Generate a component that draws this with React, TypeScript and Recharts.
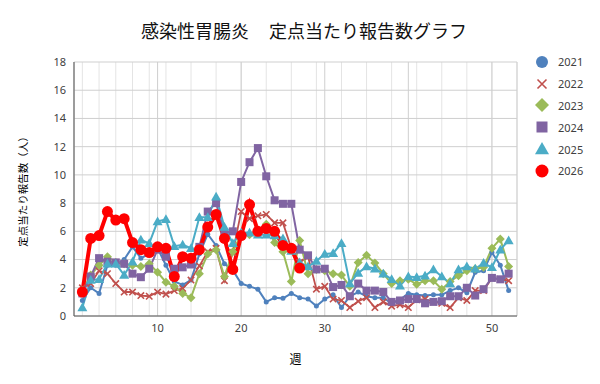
import React from "react";
import { LineChart, Line, XAxis, YAxis, CartesianGrid } from "recharts";

// 週番号（1〜52）
const weeks = [
  1, 2, 3, 4, 5, 6, 7, 8, 9, 10, 11, 12, 13, 14, 15, 16, 17, 18, 19, 20, 21, 22, 23, 24, 25, 26,
  27, 28, 29, 30, 31, 32, 33, 34, 35, 36, 37, 38, 39, 40, 41, 42, 43, 44, 45, 46, 47, 48, 49, 50, 51, 52,
];

const y2021 = [
  1.1, 2.0, 1.6, 3.6, 3.6, 4.0, 4.9, 4.1, 4.4, 4.8, 3.6, 2.45, 2.2, 2.55, 4.4, 5.8, 5.0, 3.7, 3.25, 2.3,
  2.1, 1.9, 1.0, 1.3, 1.25, 1.6, 1.3, 1.2, 0.7, 1.2, 1.5, 0.6, 1.4, 1.7, 1.4, 1.3, 1.3, 0.9, 1.15, 1.6,
  1.5, 1.45, 1.5, 1.5, 1.8, 2.0, 1.65, 3.1, 3.2, 4.5, 3.6, 1.8,
];
const y2022 = [
  2.0, 2.3, 3.2, 3.0, 2.3, 1.7, 1.7, 1.45, 1.4, 1.7, 1.55, 1.8, 1.95, 2.55, 3.55, 4.55, 4.8, 2.5, 4.5, 7.4,
  6.9, 7.1, 7.2, 6.6, 6.6, 4.8, 3.8, 4.2, 1.9, 2.1, 1.2, 1.1, 0.6, 1.05, 1.3, 0.6, 1.0, 0.7, 0.8, 0.6,
  1.15, 1.2, 1.0, 0.9, 0.6, 1.3, 1.1, 1.8, 1.8, 2.7, 2.6, 2.5,
];
const y2023 = [
  1.8, 2.9, 3.6, 4.2, 3.8, 3.7, 3.6, 3.5, 3.7, 3.1, 2.4, 2.1, 1.6, 1.3, 3.0, 4.4, 4.7, 2.8, 4.55, 5.8,
  5.75, 6.1, 6.5, 5.2, 4.55, 2.45, 5.35, 3.0, 3.3, 3.2, 3.0, 2.9, 2.1, 3.8, 4.3, 3.75, 3.0, 2.3, 2.5, 2.6,
  2.25, 2.5, 2.5, 1.9, 2.45, 2.85, 3.2, 3.35, 3.45, 4.8, 5.45, 3.5,
];
const y2024 = [
  1.6, 2.8, 4.1, 3.85, 3.8, 3.7, 3.0, 2.75, 3.35, 4.7, 4.2, 3.35, 3.45, 3.65, 4.9, 7.4, 8.0, 5.9, 6.0, 9.5,
  10.9, 11.9, 9.9, 8.2, 7.95, 7.95, 4.7, 4.3, 3.3, 3.35, 2.05, 2.2, 1.4, 2.3, 1.8, 1.8, 1.7, 1.0, 1.1, 1.2,
  1.2, 0.9, 1.0, 1.05, 1.4, 1.4, 2.0, 1.45, 1.9, 2.7, 2.6, 3.0,
];
const y2025 = [
  0.6, 2.55, 2.6, 3.7, 3.7, 2.9, 3.85, 5.4, 5.15, 6.7, 6.85, 4.95, 5.05, 4.8, 7.0, 7.0, 8.45, 6.3, 5.15, 5.9,
  5.9, 5.75, 5.75, 5.7, 5.5, 4.6, 3.8, 3.5, 3.9, 4.4, 4.45, 5.15, 2.3, 3.05, 3.5, 3.35, 3.0, 2.6, 2.15, 2.8,
  2.75, 2.85, 3.3, 2.8, 2.3, 3.3, 3.5, 3.35, 3.75, 3.45, 4.7, 5.35,
];
// 2026年は第27週まで
const y2026 = [
  1.7, 5.5, 5.7, 7.4, 6.8, 6.9, 5.2, 4.7, 4.5, 4.9, 4.8, 2.8, 4.2, 4.1, 4.7, 6.3, 7.2, 5.5, 3.3, 5.7,
  7.9, 6.0, 6.2, 6.0, 5.0, 4.8, 3.4,
];

const yTicks = [0, 2, 4, 6, 8, 10, 12, 14, 16, 18];
const xMajorTicks = [10, 20, 30, 40, 50];
const xMinorTicks = [
  0, 1, 2, 3, 4, 5, 6, 7, 8, 9, 10, 11, 12, 13, 14, 15, 16, 17, 18, 19, 20, 21, 22, 23, 24, 25, 26, 27,
  28, 29, 30, 31, 32, 33, 34, 35, 36, 37, 38, 39, 40, 41, 42, 43, 44, 45, 46, 47, 48, 49, 50, 51, 52, 53,
];

const data = weeks.map((w, i) => ({
  week: w,
  y2021: y2021[i],
  y2022: y2022[i],
  y2023: y2023[i],
  y2024: y2024[i],
  y2025: y2025[i],
  y2026: y2026[i],
}));

type Kind = "circle" | "cross" | "diamond" | "square" | "triangle";

const series = [
  { key: "y2021", name: "2021", color: "#4f81bd", kind: "circle" as Kind, width: 2, size: 2.5, legendSize: 6 },
  { key: "y2022", name: "2022", color: "#c0504d", kind: "cross" as Kind, width: 1.8, size: 3.2, legendSize: 4.5 },
  { key: "y2023", name: "2023", color: "#9bbb59", kind: "diamond" as Kind, width: 2, size: 4.5, legendSize: 7 },
  { key: "y2024", name: "2024", color: "#8064a2", kind: "square" as Kind, width: 2, size: 4, legendSize: 5.5 },
  { key: "y2025", name: "2025", color: "#4bacc6", kind: "triangle" as Kind, width: 2, size: 5, legendSize: 7 },
  { key: "y2026", name: "2026", color: "#ff0000", kind: "circle" as Kind, width: 4, size: 5.5, legendSize: 6.5 },
];

function Marker({ kind, cx, cy, s, color }: { kind: Kind; cx: number; cy: number; s: number; color: string }) {
  switch (kind) {
    case "circle":
      return <circle cx={cx} cy={cy} r={s} fill={color} />;
    case "cross":
      return (
        <path
          d={`M${cx - s},${cy - s}L${cx + s},${cy + s}M${cx - s},${cy + s}L${cx + s},${cy - s}`}
          stroke={color}
          strokeWidth={1.6}
        />
      );
    case "diamond":
      return <path d={`M${cx},${cy - s}L${cx + s},${cy}L${cx},${cy + s}L${cx - s},${cy}Z`} fill={color} />;
    case "square":
      return <rect x={cx - s} y={cy - s} width={s * 2} height={s * 2} fill={color} />;
    case "triangle":
      return <path d={`M${cx},${cy - s}L${cx + s},${cy + s * 0.75}L${cx - s},${cy + s * 0.75}Z`} fill={color} />;
  }
}

const makeDot = (kind: Kind, s: number, color: string) => (p: any) => {
  if (p.cx == null || p.cy == null || p.value == null) return <g key={p.index} />;
  return (
    <g key={p.index}>
      <Marker kind={kind} cx={p.cx} cy={p.cy} s={s} color={color} />
    </g>
  );
};

const YTitle = (props: any) => {
  const { viewBox } = props;
  const x = viewBox.x + 22;
  const y = viewBox.y + viewBox.height / 2;
  return (
    <text
      x={x}
      y={y}
      transform={`rotate(-90 ${x} ${y})`}
      textAnchor="middle"
      dominantBaseline="central"
      fontSize={10.5}
      fill="#000"
      fontFamily="'Noto Sans CJK JP', sans-serif"
    >
      定点当たり報告数（人）
    </text>
  );
};

const tickStyle = { fontSize: 11, fill: "#404040", fontFamily: "'Noto Sans', sans-serif" };

export default function App() {
  return (
    <div style={{ position: "absolute", left: 0, top: 0, width: 600, height: 384, background: "#fff" }}>
      <div
        style={{
          position: "absolute",
          left: 4,
          top: 19,
          width: 600,
          textAlign: "center",
          fontSize: 18,
          lineHeight: "22px",
          fontFamily: "'Noto Sans CJK JP', sans-serif",
          color: "#111",
          whiteSpace: "pre",
        }}
      >
        感染性胃腸炎<span style={{ display: "inline-block", width: 20 }} />定点当たり報告数グラフ
      </div>

      <LineChart width={600} height={384} data={data} margin={{ top: 62, right: 83, bottom: 0, left: 0 }}>
        <CartesianGrid xAxisId="minor" horizontal={false} stroke="#e4e4e4" strokeWidth={1} />
        <CartesianGrid xAxisId="major" stroke="#cfcfcf" strokeWidth={1} />
        <XAxis
          xAxisId="minor"
          dataKey="week"
          type="number"
          domain={[0, 53]}
          ticks={xMinorTicks}
          hide
        />
        <XAxis xAxisId="major" dataKey="week" type="number" domain={[0, 53]} ticks={xMajorTicks} hide />
        <XAxis
          dataKey="week"
          type="number"
          domain={[0, 53]}
          ticks={xMajorTicks}
          height={68}
          tickLine={false}
          axisLine={{ stroke: "#595959" }}
          tick={tickStyle}
          label={{
            value: "週",
            position: "insideBottom",
            offset: 20,
            style: { fontSize: 12, fill: "#000", fontFamily: "'Noto Sans CJK JP', sans-serif" },
          }}
        />
        <YAxis
          domain={[0, 18]}
          ticks={yTicks}
          width={74}
          tickLine={false}
          axisLine={{ stroke: "#595959" }}
          tick={tickStyle}
          label={<YTitle />}
        />
        {series.map((s) => (
          <Line
            key={s.key}
            dataKey={s.key}
            name={s.name}
            stroke={s.color}
            strokeWidth={s.width}
            dot={makeDot(s.kind, s.size, s.color)}
            activeDot={false}
            isAnimationActive={false}
          />
        ))}
      </LineChart>

      <div style={{ position: "absolute", left: 532, top: 51 }}>
        {series.map((s) => (
          <div key={s.key} style={{ display: "flex", alignItems: "center", height: 21.8 }}>
            <svg width={20} height={20}>
              <Marker kind={s.kind} cx={10} cy={10} s={s.legendSize} color={s.color} />
            </svg>
            <span
              style={{
                marginLeft: 6,
                fontSize: 11,
                color: "#404040",
                fontFamily: "'Noto Sans', sans-serif",
              }}
            >
              {s.name}
            </span>
          </div>
        ))}
      </div>
    </div>
  );
}
